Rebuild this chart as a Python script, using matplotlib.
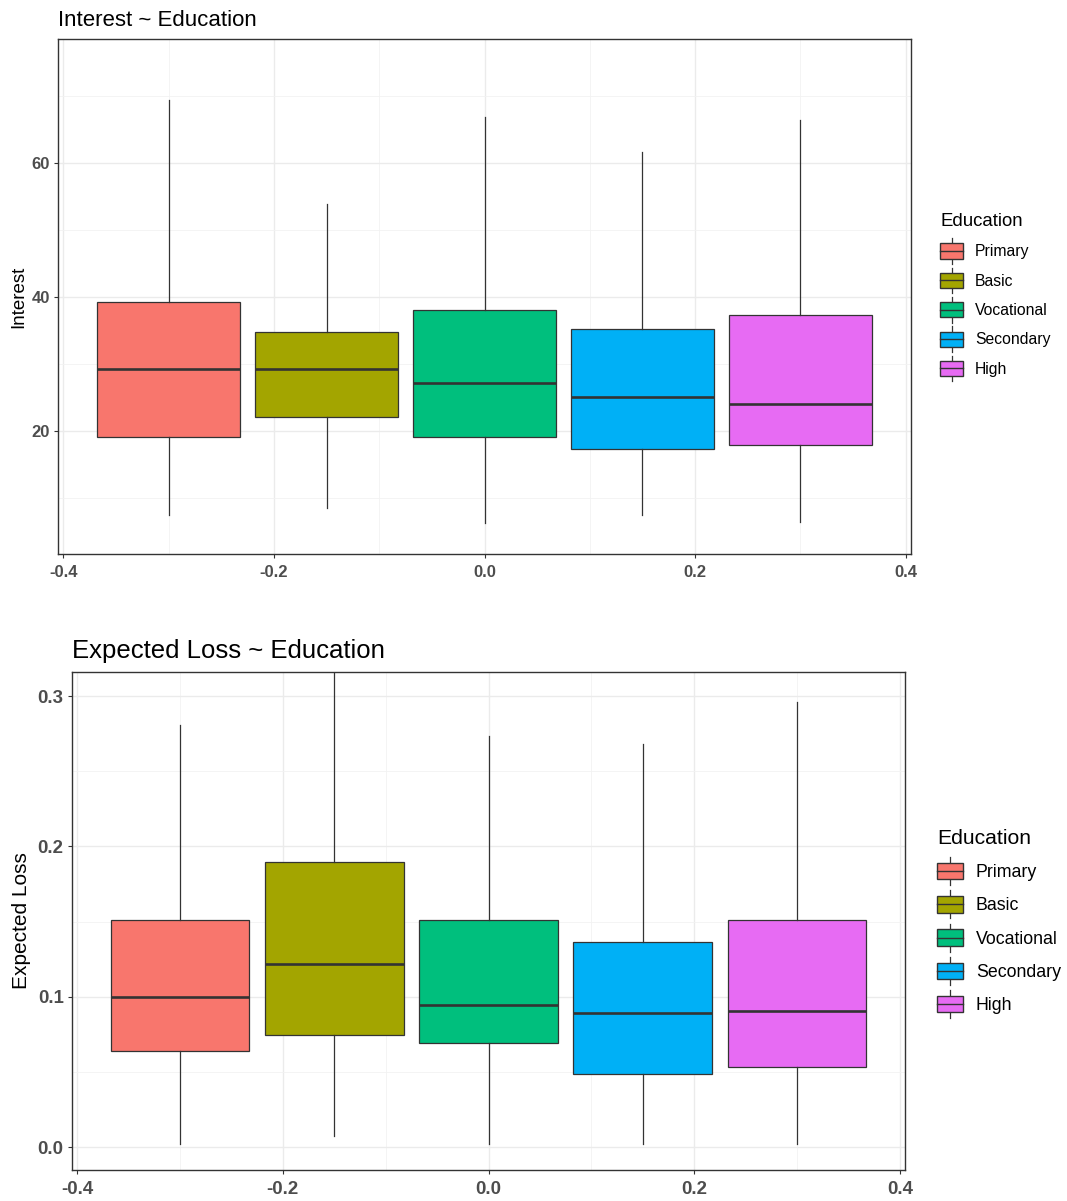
import matplotlib
matplotlib.use("Agg")
import matplotlib.pyplot as plt
from matplotlib.patches import Patch, Rectangle
from matplotlib.lines import Line2D
from matplotlib.legend_handler import HandlerBase
from matplotlib.ticker import FixedLocator
from matplotlib import font_manager

plt.rcParams['axes.unicode_minus'] = False
plt.rcParams['font.family'] = ['Liberation Sans', 'DejaVu Sans']

# narrow bold face for tick labels if it is installed
names = {f.name for f in font_manager.fontManager.ttflist}
TICKFONT = ['Liberation Sans Narrow', 'Liberation Sans'] \
    if 'Liberation Sans Narrow' in names else ['Liberation Sans']

categories = ['Primary', 'Basic', 'Vocational', 'Secondary', 'High']
colors = ['#F8766D', '#A3A500', '#00BF7D', '#00B0F6', '#E76BF3']

# Interest ~ Education (five-number summaries)
interest_lo = [7.5, 8.5, 6.3, 7.5, 6.4]
interest_q1 = [19.1, 22.1, 19.1, 17.3, 17.9]
interest_med = [29.2, 29.2, 27.1, 25.1, 24.0]
interest_q3 = [39.25, 34.8, 38.1, 35.2, 37.3]
interest_hi = [69.4, 53.9, 66.9, 61.6, 66.4]

# Expected Loss ~ Education
loss_lo = [0.002, 0.0075, 0.002, 0.0017, 0.0017]
loss_q1 = [0.064, 0.0747, 0.0689, 0.0486, 0.0534]
loss_med = [0.0995, 0.1218, 0.0945, 0.089, 0.0907]
loss_q3 = [0.151, 0.1894, 0.151, 0.1364, 0.151]
loss_hi = [0.2807, 0.33, 0.2735, 0.2679, 0.296]

xticks = [-0.4, -0.2, 0.0, 0.2, 0.4]
xticklabels = ['-0.4', '-0.2', '0.0', '0.2', '0.4']

EDGE = '#333333'
TICKCOL = '#4D4D4D'
offsets = [-0.3, -0.15, 0.0, 0.15, 0.3]
box_w = 0.135


class BoxKey(HandlerBase):
    def create_artists(self, legend, orig_handle, xdescent, ydescent,
                       width, height, fontsize, trans):
        x0, y0 = -xdescent, -ydescent
        cx = x0 + width / 2
        ext = height * 0.35
        whisk = Line2D([cx, cx], [y0 - ext, y0 + height + ext], color=EDGE,
                       lw=0.9, transform=trans)
        rect = Rectangle((x0, y0), width, height,
                         facecolor=orig_handle.get_facecolor(),
                         edgecolor=EDGE, lw=1.0, transform=trans)
        med = Line2D([x0, x0 + width], [y0 + height / 2] * 2, color=EDGE,
                     lw=1.0, transform=trans)
        return [whisk, rect, med]


def draw_panel(ax, lo, q1, med, q3, hi, yticks, ytl, yminor, ylim,
               title, ylabel, fs):
    stats = []
    for i in range(len(categories)):
        stats.append({'whislo': lo[i], 'q1': q1[i], 'med': med[i],
                      'q3': q3[i], 'whishi': hi[i], 'fliers': []})
    bp = ax.bxp(stats, positions=offsets, widths=box_w, patch_artist=True,
                showcaps=False, showfliers=False, manage_ticks=False,
                boxprops=dict(edgecolor=EDGE, linewidth=0.9),
                whiskerprops=dict(color=EDGE, linewidth=0.9),
                medianprops=dict(color=EDGE, linewidth=1.9))
    for patch, c in zip(bp['boxes'], colors):
        patch.set_facecolor(c)

    ax.set_xlim(-0.405, 0.405)
    ax.set_ylim(*ylim)
    ax.set_xticks(xticks)
    ax.set_xticklabels(xticklabels)
    ax.set_yticks(yticks)
    ax.set_yticklabels(ytl)
    ax.xaxis.set_minor_locator(FixedLocator([-0.3, -0.1, 0.1, 0.3]))
    ax.yaxis.set_minor_locator(FixedLocator(yminor))
    ax.grid(which='major', color='#EBEBEB', linewidth=1.0)
    ax.grid(which='minor', color='#F2F2F2', linewidth=0.6)
    ax.set_axisbelow(True)
    ax.tick_params(which='minor', length=0)
    ax.tick_params(which='major', length=3, width=0.8, color=EDGE,
                   labelcolor=TICKCOL, labelsize=fs['tick'], pad=3)
    ax.tick_params(axis='x', which='major', pad=5)
    for lab in ax.get_xticklabels() + ax.get_yticklabels():
        lab.set_fontweight('bold')
        lab.set_family(TICKFONT)
    for s in ax.spines.values():
        s.set_color(EDGE)
        s.set_linewidth(1.0)
    ax.set_title(title, loc='left', fontsize=fs['title'], pad=fs['tpad'])
    ax.set_ylabel(ylabel, fontsize=fs['ylab'])


fig = plt.figure(figsize=(10.67, 12.01), dpi=100)
W, H = 1067, 1201

ax1 = fig.add_axes([58 / W, 1 - 554 / H, 853 / W, 515 / H])
draw_panel(ax1, interest_lo, interest_q1, interest_med, interest_q3,
           interest_hi, [20, 40, 60], ['20', '40', '60'], [10, 30, 50, 70],
           (1.64, 78.5), 'Interest ~ Education', 'Interest',
           {'tick': 12, 'title': 16, 'tpad': 9, 'ylab': 13.5})
ax1.yaxis.set_label_coords(-0.036, 0.5)

ax2 = fig.add_axes([72 / W, 1 - 1170 / H, 833 / W, 498 / H])
draw_panel(ax2, loss_lo, loss_q1, loss_med, loss_q3, loss_hi,
           [0.0, 0.1, 0.2, 0.3], ['0.0', '0.1', '0.2', '0.3'],
           [0.05, 0.15, 0.25], (-0.0153, 0.316),
           'Expected Loss ~ Education', 'Expected Loss',
           {'tick': 13.4, 'title': 18.5, 'tpad': 10, 'ylab': 15})
ax2.yaxis.set_label_coords(-0.049, 0.5)

handles = [Patch(facecolor=c, edgecolor=EDGE) for c in colors]

leg1 = fig.legend(handles, categories, title='Education',
                  loc='upper left', bbox_to_anchor=(940 / W, 1 - 213 / H),
                  frameon=False, fontsize=11.3, title_fontsize=13.4,
                  handler_map={Patch: BoxKey()}, handlelength=1.47,
                  handleheight=1.1, handletextpad=0.75, labelspacing=0.86,
                  borderpad=0, borderaxespad=0, alignment='left')

leg2 = fig.legend(handles, categories, title='Education',
                  loc='upper left', bbox_to_anchor=(937 / W, 1 - 829 / H),
                  frameon=False, fontsize=12.8, title_fontsize=15.2,
                  handler_map={Patch: BoxKey()}, handlelength=1.46,
                  handleheight=1.05, handletextpad=0.72, labelspacing=0.84,
                  borderpad=0, borderaxespad=0, alignment='left')

fig.savefig('out.png', dpi=100)
